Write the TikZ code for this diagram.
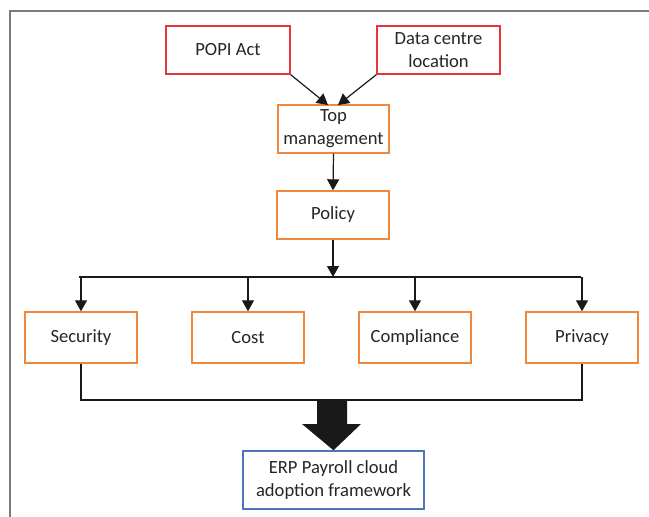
\documentclass[tikz,border=0pt]{standalone}
\usepackage{fontspec}
\setmainfont{Carlito}
\usetikzlibrary{arrows.meta}
\definecolor{boxred}{HTML}{E8343C}
\definecolor{boxorange}{HTML}{F0883C}
\definecolor{boxblue}{HTML}{4E76BC}
\definecolor{txt}{HTML}{262626}
\definecolor{framegray}{HTML}{7A7A7A}
\begin{document}
\begin{tikzpicture}[x=1pt,y=-1pt,
  box/.style={draw, line width=1.4pt, inner sep=0pt, align=center,
    text=txt, font=\fontsize{18.6}{23}\selectfont, fill=white},
  redbox/.style={box, draw=boxred, minimum width=124pt, minimum height=48pt},
  orangebox/.style={box, draw=boxorange, minimum width=112pt, minimum height=48pt},
  factorbox/.style={box, draw=boxorange, minimum width=112pt, minimum height=51pt},
  bluebox/.style={box, draw=boxblue, minimum width=181pt, minimum height=58pt},
  conn/.style={draw=black!90, line width=1.2pt},
  arr/.style={conn, -{Triangle[width=12pt,length=11pt]}},
  bigarrow/.style={fill=black!90, draw=none}]
\useasboundingbox (0,0) rectangle (649,517);
% frame
\draw[framegray, line width=2pt] (10,517) -- (10,11) -- (649,11);

% nodes
\node[redbox] (popi) at (228,50) {POPI Act};
\node[redbox, minimum width=123pt] (dc) at (438.5,50) {Data centre\\location};
\node[orangebox, minimum width=111pt] (top) at (333.5,129) {Top\\management};
\node[orangebox] (policy) at (333,215) {Policy};
\node[factorbox] (sec) at (81,337.5) {Security};
\node[factorbox] (cost) at (248,337.5) {Cost};
\node[factorbox] (comp) at (415,337.5) {Compliance};
\node[factorbox] (priv) at (582,337.5) {Privacy};
\node[bluebox] (erp) at (333.5,480) {ERP Payroll cloud\\adoption framework};

% junction points
\coordinate (toppa) at (328,105);
\coordinate (toppb) at (338,105);
\coordinate (bus) at (333,277);
\coordinate (busl) at (79,277);
\coordinate (busr) at (581,277);
\coordinate (col) at (81,400);
\coordinate (colr) at (582,400);

% connectors
\draw[arr] (popi.south east) -- (toppa);
\draw[arr] (dc.south west) -- (toppb);
\draw[arr] (top.south) -- (policy.north);
\draw[arr] (policy.south) -- (bus);
\draw[conn] (busl) -- (busr);
\draw[arr] (sec.north |- bus) -- (sec.north);
\draw[arr] (cost.north |- bus) -- (cost.north);
\draw[arr] (comp.north |- bus) -- (comp.north);
\draw[arr] (priv.north |- bus) -- (priv.north);
\draw[conn] (sec.south) -- (col) -- (colr) -- (priv.south);

% block arrow into the framework box
\fill[bigarrow] (317,400) -- (347,400) -- (347,424) -- (361,424)
  -- (erp.north) -- (302,424) -- (317,424) -- cycle;
\end{tikzpicture}
\end{document}
